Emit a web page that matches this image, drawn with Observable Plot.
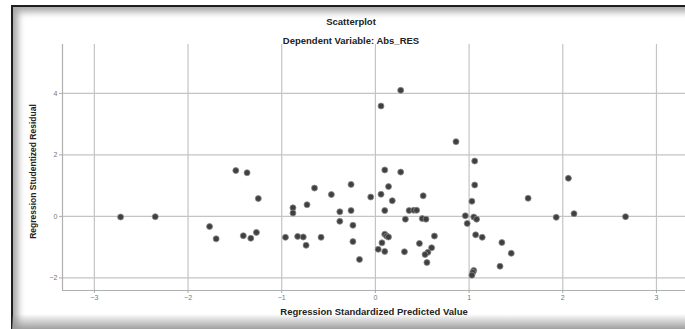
<!DOCTYPE html>
<html>
<head>
<meta charset="utf-8">
<script src="https://cdn.jsdelivr.net/npm/d3@7"></script>
<script src="https://cdn.jsdelivr.net/npm/@observablehq/plot@0.6"></script>
<style>
  html, body { margin: 0; padding: 0; background: #fff; }
  #wrap { position: relative; width: 685px; height: 329px; overflow: hidden; background: #fff; font-family: "Liberation Sans", Arial, sans-serif; }
  #frame { position: absolute; left: 11px; top: 5px; width: 690px; height: 340px; border-top: 2px solid #1e1e1e; border-left: 2px solid #1e1e1e; box-shadow: inset 7px 7px 7px -2px rgba(0,0,0,0.35); }
  #bottomShade { position: absolute; left: 12px; top: 314px; width: 673px; height: 15px; background: linear-gradient(to bottom, rgba(255,255,255,0), rgba(150,150,150,0.9)); }
  .t { position: absolute; left: 0; width: 702px; text-align: center; font-weight: bold; color: #222; font-size: 9.5px; }
  #chart { position: absolute; left: 0; top: 0; }
</style>
</head>
<body>
<div id="wrap">
  <div id="frame"></div>
  <div id="chart"></div>
  <div class="t" id="title" style="top:16px;">Scatterplot</div>
  <div class="t" id="subtitle" style="top:35px;">Dependent Variable: Abs_RES</div>
  <div id="bottomShade"></div>
</div>
<script>
const title = "Scatterplot";
const subtitle = "Dependent Variable: Abs_RES";
const xTitle = "Regression Standardized Predicted Value";
const yTitle = "Regression Studentized Residual";
const xTicks = [-3, -2, -1, 0, 1, 2, 3];
const yTicks = [-2, 0, 2, 4];

// Regression standardized predicted values
const predicted = [
  -2.72, -2.35, -1.77, -1.70, -1.49, -1.37, -1.25, -1.41, -1.33, -1.27,
  -0.96, -0.88, -0.88, -0.83, -0.77, -0.74, -0.73, -0.65, -0.58, -0.47,
  -0.38, -0.38, -0.26, -0.26, -0.24, -0.24, -0.17, -0.05,
  0.27, 0.06, 0.86, 1.06, 0.10, 0.27, 2.06, 0.14, 1.06, 0.06,
  0.18, 0.51, 1.63, 1.03, 0.10, 0.36, 0.41, 0.44, 0.32, 0.50,
  0.54, 0.96, 1.05, 1.08, 0.98, 1.93, 2.12, 2.67, 0.10, 0.12,
  0.14, 0.07, 0.03, 0.10, 0.31, 0.47, 0.63, 0.60, 0.56, 0.53,
  0.55, 1.07, 1.14, 1.35, 1.45, 1.33, 1.05, 1.04, 1.03
];
// Regression studentized residuals
const residual = [
  -0.02, -0.01, -0.33, -0.73, 1.49, 1.42, 0.58, -0.63, -0.71, -0.52,
  -0.68, 0.28, 0.11, -0.65, -0.67, -0.94, 0.38, 0.92, -0.68, 0.71,
  0.15, -0.16, 1.04, 0.19, -0.29, -0.82, -1.40, 0.63,
  4.10, 3.59, 2.43, 1.80, 1.51, 1.44, 1.24, 0.97, 1.02, 0.72,
  0.51, 0.67, 0.59, 0.49, 0.19, 0.19, 0.20, 0.20, -0.09, -0.07,
  -0.09, 0.02, -0.02, -0.09, -0.23, -0.03, 0.09, -0.01, -0.58, -0.64,
  -0.67, -0.86, -1.07, -1.14, -1.15, -0.88, -0.64, -1.02, -1.17, -1.24,
  -1.50, -0.60, -0.68, -0.85, -1.20, -1.62, -1.76, -1.82, -1.91
];

const points = predicted.map((x, i) => ({x, y: residual[i]}));
const xDomain = [-3.34, 3.31];
const yDomain = [-2.41, 5.59];

const chart = Plot.plot({
  width: 685,
  height: 329,
  marginLeft: 62,
  marginRight: 0,
  marginTop: 44,
  marginBottom: 39,
  style: {background: "transparent", fontFamily: "Liberation Sans, Arial, sans-serif", overflow: "visible"},
  x: {domain: xDomain},
  y: {domain: yDomain},
  marks: [
    Plot.gridX(xTicks, {stroke: "#c4c4c4", strokeOpacity: 1, strokeWidth: 1.2}),
    Plot.gridY(yTicks, {stroke: "#c4c4c4", strokeOpacity: 1, strokeWidth: 1.2}),
    Plot.ruleX([xDomain[0]], {stroke: "#b0b0b0", strokeWidth: 1.2}),
    Plot.ruleY([yDomain[0]], {stroke: "#b0b0b0", strokeWidth: 1.2}),
    Plot.axisX(xTicks, {tickSize: 3, tickPadding: 2, fontSize: 7, color: "#777", stroke: "#aaa", label: null}),
    Plot.axisY(yTicks, {tickSize: 3, tickPadding: 2, fontSize: 7, color: "#777", stroke: "#aaa", label: null}),
    Plot.text([xTitle], {frameAnchor: "bottom", dy: 24, fontWeight: "bold", fontSize: 9.5, fill: "#222"}),
    Plot.text([yTitle], {frameAnchor: "left", textAnchor: "middle", dx: -29, dy: 4, rotate: -90, fontWeight: "bold", fontSize: 8.5, fill: "#222"}),
    Plot.dot(points, {x: "x", y: "y", r: 3, fill: "#404040", stroke: "#8a8a8a", strokeWidth: 0.8})
  ]
});
document.getElementById("chart").appendChild(chart);
</script>
</body>
</html>
